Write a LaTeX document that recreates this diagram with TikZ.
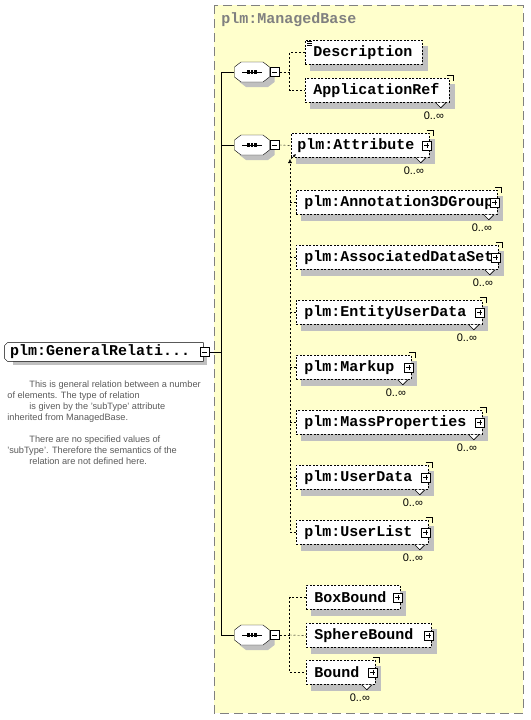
\documentclass[tikz,border=0pt]{standalone}
\usepackage{fontspec}
\setmainfont{Liberation Sans}
\newfontfamily\xsdmono{Liberation Mono}
\usetikzlibrary{arrows.meta}

\pgfdeclarelayer{back}
\pgfsetlayers{back,main}

\definecolor{xsdyellow}{RGB}{255,255,204}
\definecolor{xsdshadow}{RGB}{192,192,192}
\definecolor{xsdgray}{RGB}{128,128,128}
\definecolor{xsdnote}{RGB}{90,90,90}

\begin{document}
\begin{tikzpicture}[x=1pt, y=-1pt, line width=0.8pt,
	elem/.style={draw, dash pattern=on 2pt off 1.5pt, fill=white, anchor=north west, minimum height=24pt, inner xsep=8pt, inner ysep=0pt, align=left, font=\xsdmono\bfseries\fontsize{15pt}{15pt}\selectfont},
	gen/.style={minimum height=18pt, inner xsep=5pt, inner ysep=0pt, align=left, font=\xsdmono\bfseries\fontsize{15pt}{15pt}\selectfont},
	seq/.style={minimum width=35pt, minimum height=20pt, inner sep=0pt},
	minus/.style={draw, solid, fill=white, minimum size=9pt, inner sep=0pt, line width=0.6pt,
		path picture={\draw ([xshift=-2.5pt]path picture bounding box.center) -- ([xshift=2.5pt]path picture bounding box.center);}},
	plus/.style={draw, solid, fill=white, minimum size=9pt, inner sep=0pt, line width=0.6pt,
		path picture={\draw ([xshift=-2.5pt]path picture bounding box.center) -- ([xshift=2.5pt]path picture bounding box.center);
			\draw ([yshift=-2.5pt]path picture bounding box.center) -- ([yshift=2.5pt]path picture bounding box.center);}},
	conn/.style={dash pattern=on 2pt off 2pt},
	card/.style={font=\fontsize{11pt}{11pt}\selectfont, inner sep=0pt},
	note/.style={anchor=north west, inner sep=0pt, align=left, text=xsdnote, font=\fontsize{9.2pt}{11pt}\selectfont}]

	\useasboundingbox (0, 0) rectangle (530, 720);
	\node[anchor=west, inner sep=0pt, text=xsdgray, font=\xsdmono\bfseries\fontsize{15pt}{15pt}\selectfont] (base) at (221, 20) {plm:ManagedBase};

	% root element and its documentation
	\node[gen, text width=188pt]	(gr) at (104, 352) {plm:GeneralRelati...};
	\node[minus]					(grm) at ([xshift=1pt]gr.east) {};
	\node[note]						(doc) at (7, 380) {\hspace*{22pt}This is general relation between a number\\
		of elements. The type of relation\\
		\hspace*{22pt}is given by the 'subType' attribute\\
		inherited from ManagedBase.\\[11pt]
		\hspace*{22pt}There are no specified values of\\
		'subType'. Therefore the semantics of the\\
		\hspace*{22pt}relation are not defined here.};

	% sequences
	\node[seq]						(seq1) at (252, 72) {};
	\node[seq]						(seq2) at (252, 145) {};
	\node[seq]						(seq3) at (252, 635) {};
	\node[minus, anchor=west]		(seq1m) at (seq1.east) {};
	\node[minus, anchor=west]		(seq2m) at (seq2.east) {};
	\node[minus, anchor=west]		(seq3m) at (seq3.east) {};

	% elements
	\node[elem, text width=101pt]	(desc) at (305, 40) {Description};
	\node[elem, text width=128pt]	(appref) at (305, 78) {ApplicationRef};
	\node[elem, text width=126pt, inner xsep=6pt]	(attr) at (291, 133) {plm:Attribute};
	\node[elem, text width=185pt]	(annot) at (296, 190) {plm:Annotation3DGroup};
	\node[elem, text width=186pt]	(assoc) at (296, 245) {plm:AssociatedDataSet};
	\node[elem, text width=170pt]	(entity) at (296, 300) {plm:EntityUserData};
	\node[elem, text width=99pt]	(markup) at (296, 355) {plm:Markup};
	\node[elem, text width=170pt]	(mass) at (296, 410) {plm:MassProperties};
	\node[elem, text width=116pt]	(userdata) at (296, 465) {plm:UserData};
	\node[elem, text width=116pt]	(userlist) at (296, 520) {plm:UserList};
	\node[elem, text width=78pt]	(boxb) at (306, 585) {BoxBound};
	\node[elem, text width=109pt]	(sphere) at (306, 623) {SphereBound};
	\node[elem, text width=53pt]	(bound) at (306, 660) {Bound};

	% frame, shadows and outlines go underneath
	\begin{pgfonlayer}{back}
		\draw[xsdgray, dash pattern=on 9pt off 5pt, fill=xsdyellow] (214, 5) rectangle (523, 713);
		\foreach \n in {desc, appref, attr, annot, assoc, entity, markup, mass, userdata, userlist, boxb, sphere, bound}
			\fill[xsdshadow] ([xshift=5pt, yshift=-6pt]\n.north west) rectangle ([xshift=5pt, yshift=-6pt]\n.south east);
		\fill[xsdshadow] ([xshift=8pt, yshift=-4pt]gr.north west) -- ([xshift=4pt, yshift=-4pt]gr.north east) -- ([xshift=4pt, yshift=-4pt]gr.south east) -- ([xshift=8pt, yshift=-4pt]gr.south west) -- cycle;
		\draw[fill=white] ([xshift=3pt]gr.north west) -- (gr.north east) -- (gr.south east) -- ([xshift=3pt]gr.south west) -- ([yshift=3pt]gr.south west) -- ([yshift=-3pt]gr.north west) -- cycle;
		\foreach \s in {seq1, seq2, seq3} {
			\fill[xsdshadow] ([xshift=5pt, yshift=-5pt]\s.center) ++(-11, -10) -- ++(22, 0) -- ++(6.5, 5) -- ++(0, 10) -- ++(-6.5, 5) -- ++(-22, 0) -- ++(-6.5, -5) -- ++(0, -10) -- cycle;
			\draw[fill=white] (\s.center) ++(-11, -10) -- ++(22, 0) -- ++(6.5, 5) -- ++(0, 10) -- ++(-6.5, 5) -- ++(-22, 0) -- ++(-6.5, -5) -- ++(0, -10) -- cycle;
		}
	\end{pgfonlayer}

	\foreach \s in {seq1, seq2, seq3} {
		\draw[line width=1pt] ([xshift=-10pt]\s.center) -- ([xshift=10pt]\s.center);
		\foreach \d in {-3.5, 0, 3.5}
			\fill ([xshift=\d pt]\s.center) +(-1.3pt, -1.6pt) rectangle +(1.3pt, 1.6pt);
	}

	\draw[line width=0.6pt] (desc.north west) ++(2, 1.5) -- ++(5, 0) ++(-5, 2) -- ++(5, 0) ++(-5, 2) -- ++(5, 0);

	\foreach \n in {attr, annot, assoc, entity, markup, mass, userdata, userlist, boxb, sphere, bound}
		\node[plus] (\n p) at ([xshift=-3pt]\n.east) {};

	\foreach \n in {appref, attr, annot, assoc, entity, markup, mass, userdata, userlist, bound} {
		\draw[line width=0.6pt] ([xshift=-3pt, yshift=3pt]\n.north east) -- ([xshift=3pt, yshift=3pt]\n.north east) -- ([xshift=3pt, yshift=-3pt]\n.north east);
		\draw[line width=0.6pt, fill=white] ([xshift=-14pt]\n.south east) -- ([xshift=-9pt, yshift=-5pt]\n.south east) -- ([xshift=-4pt]\n.south east);
		\node[card] (\n c) at ([xshift=-16pt, yshift=-13pt]\n.south east) {0..∞};
	}

	% connectors
	\coordinate (spine) at (221, 352);
	\draw (grm.east) -- (spine);
	\draw (seq1.west) -| (spine);
	\draw (seq3.west) -| (spine);
	\draw (seq2.west) -- (seq2.west -| spine);

	\draw[conn] (seq1m.east) -- ++(10, 0) coordinate (fork1);
	\draw[conn] (desc.west) -| (fork1) |- (appref.west);

	\coordinate (tip2) at (290, 159);
	\draw[conn] (seq2m.east) -- (attr.west);
	\draw[conn, -{Latex[length=4pt, width=4pt]}] (userlist.west) -| (tip2);
	\foreach \n in {annot, assoc, entity, markup, mass, userdata}
		\draw[conn] (\n.west) -- (\n.west -| tip2);
	\draw[line width=0.6pt, -{Latex[length=3pt, width=3pt]}] ([xshift=1pt]tip2) -- ([xshift=6pt, yshift=5pt]tip2);

	\draw[conn] (seq3m.east) -- ++(10, 0) coordinate (fork3);
	\draw[conn] (boxb.west) -| (fork3) |- (bound.west);
	\draw[conn] (fork3) -- (sphere.west);
\end{tikzpicture}
\end{document}
